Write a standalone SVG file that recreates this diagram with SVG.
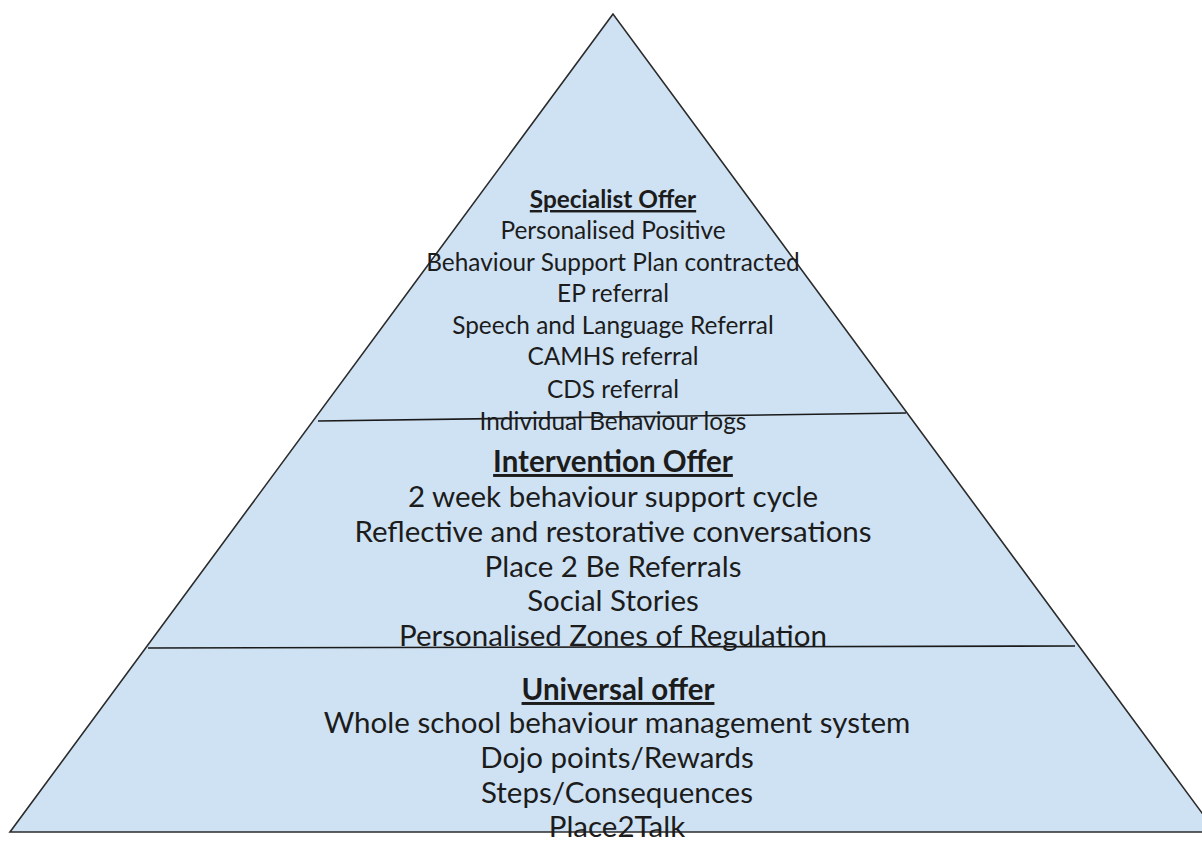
<svg xmlns="http://www.w3.org/2000/svg" width="1202" height="849" viewBox="0 0 1202 849">
  <style>
    .tier { fill: #cfe2f3; stroke: #2b2b2b; stroke-width: 1.6; stroke-linejoin: miter; }
    .divider { stroke: #1a1a1a; stroke-width: 1.6; fill: none; }
    text { font-family: Lato, "Open Sans", "Liberation Sans", sans-serif; fill: #1c1c1c; text-anchor: middle; }
    .sm { font-size: 24.4px; }
    .lg { font-size: 29.5px; }
    .head { font-weight: bold; text-decoration: underline; }
  </style>
  <rect width="1202" height="849" fill="#ffffff"/>

  <!-- pyramid outline -->
  <g id="pyramid">
    <polygon class="tier" points="613,14 10,832 1216,832"/>
  </g>

  <!-- tier dividers -->
  <g id="connectors">
    <line class="divider" x1="318" y1="421" x2="906" y2="413"/>
    <line class="divider" x1="148" y1="648" x2="1075" y2="646"/>
  </g>

  <!-- top tier -->
  <g id="specialist">
    <text class="sm head" x="613" y="208">Specialist Offer</text>
    <text class="sm" x="613" y="239">Personalised Positive</text>
    <text class="sm" x="613" y="271">Behaviour Support Plan contracted</text>
    <text class="sm" x="613" y="302">EP referral</text>
    <text class="sm" x="613" y="334">Speech and Language Referral</text>
    <text class="sm" x="613" y="365">CAMHS referral</text>
    <text class="sm" x="613" y="398">CDS referral</text>
    <text class="sm" x="613" y="430">Individual Behaviour logs</text>
  </g>

  <!-- middle tier -->
  <g id="intervention">
    <text class="lg head" x="613" y="472">Intervention Offer</text>
    <text class="lg" x="613" y="507">2 week behaviour support cycle</text>
    <text class="lg" x="613" y="542">Reflective and restorative conversations</text>
    <text class="lg" x="613" y="577">Place 2 Be Referrals</text>
    <text class="lg" x="613" y="611">Social Stories</text>
    <text class="lg" x="613" y="646">Personalised Zones of Regulation</text>
  </g>

  <!-- bottom tier -->
  <g id="universal">
    <text class="lg head" x="618" y="700">Universal offer</text>
    <text class="lg" x="617" y="733">Whole school behaviour management system</text>
    <text class="lg" x="617" y="768">Dojo points/Rewards</text>
    <text class="lg" x="617" y="803">Steps/Consequences</text>
    <text class="lg" x="617" y="837">Place2Talk</text>
  </g>
</svg>
